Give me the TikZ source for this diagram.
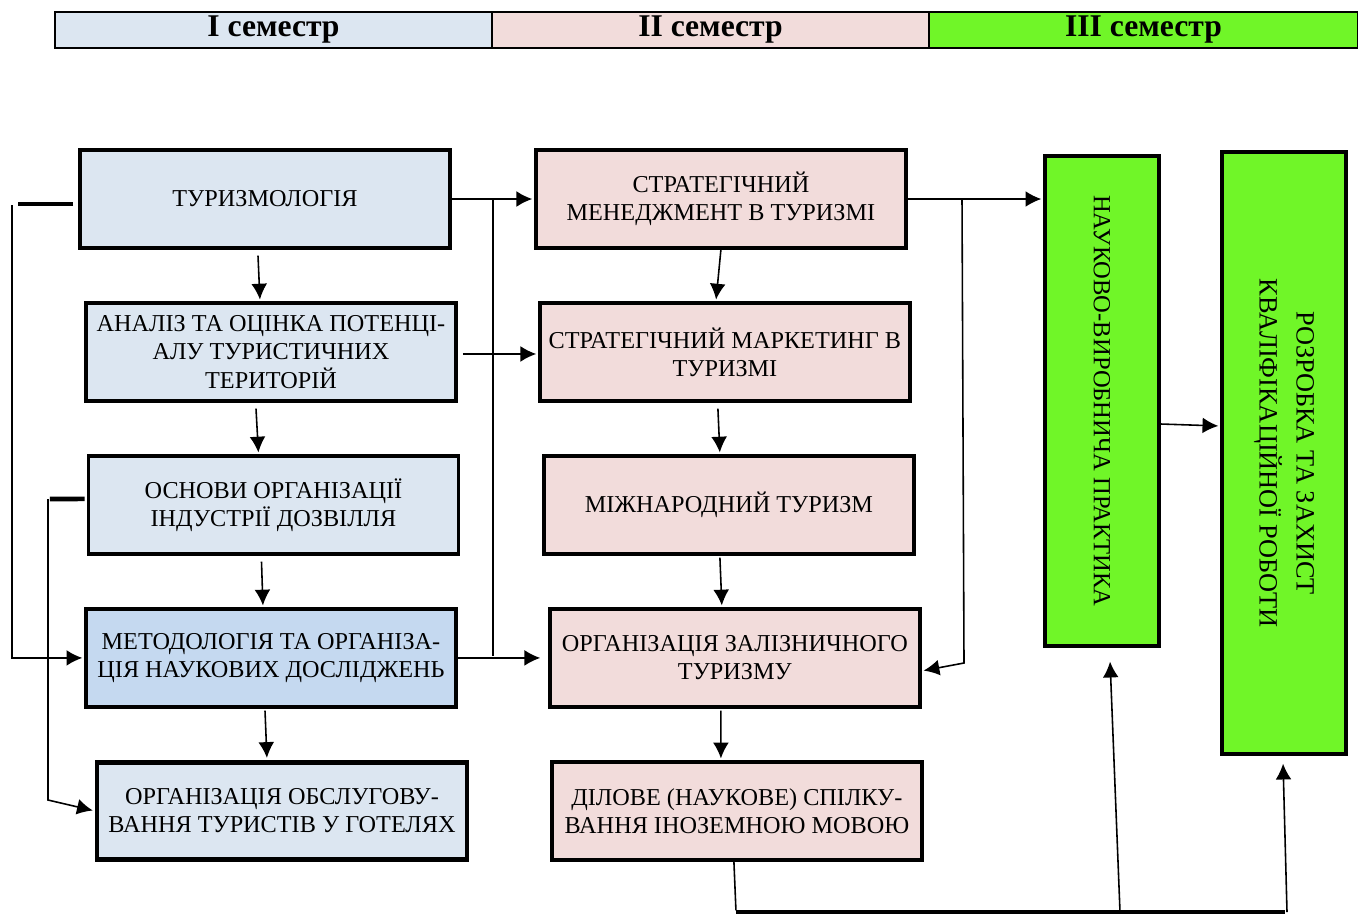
\documentclass[tikz,border=0pt]{standalone}
\usepackage{fontspec}
\setmainfont{Liberation Serif}
\usepackage{tikz}
\usetikzlibrary{arrows.meta,positioning,calc}
\definecolor{semone}{RGB}{220,230,241}
\definecolor{semmeth}{RGB}{197,217,240}
\definecolor{semtwo}{RGB}{242,220,219}
\definecolor{semthree}{RGB}{112,246,40}

\begin{document}
\begin{tikzpicture}[x=0.02cm,y=-0.02cm,shorten >=1pt,node distance=3.06cm,on grid,
    >={Latex[length=9pt,width=9pt]},
    head/.style={draw,line width=1pt,minimum height=0.72cm,inner sep=0pt,
                 font=\bfseries\fontsize{18pt}{20pt}\selectfont},
    disc/.style={draw,line width=2.2pt,minimum width=7.4cm,minimum height=1.95cm,
                 align=center,inner sep=1pt,font=\fontsize{13.8pt}{16pt}\selectfont},
    prac/.style={draw,line width=2.2pt,fill=semthree,rotate=-90,align=center,
                 font=\fontsize{14pt}{21pt}\selectfont},
    conn/.style={line width=0.9pt}]
    \useasboundingbox (0,0) rectangle (1358,914);
    \node[head,fill=semone,minimum width=8.74cm]   (s_1) at (273.5,30)  {I семестр};
    \node[head,fill=semtwo,minimum width=8.74cm]   (s_2) at (710.5,30)  {II семестр};
    \node[head,fill=semthree,minimum width=8.58cm] (s_3) at (1143.5,30) {III семестр};

    \node[disc,fill=semone]  (tur)  at (265,199) {ТУРИЗМОЛОГІЯ};
    \node[disc,fill=semone]  (anal) [below=of tur,xshift=0.12cm]
        {АНАЛІЗ ТА ОЦІНКА ПОТЕНЦІ-\\АЛУ ТУРИСТИЧНИХ\\ТЕРИТОРІЙ};
    \node[disc,fill=semone]  (osn)  [below=of anal,xshift=0.05cm]
        {ОСНОВИ ОРГАНІЗАЦІЇ\\ІНДУСТРІЇ ДОЗВІЛЛЯ};
    \node[disc,fill=semmeth] (met)  [below=of osn,xshift=-0.05cm]
        {МЕТОДОЛОГІЯ ТА ОРГАНІЗА-\\ЦІЯ НАУКОВИХ ДОСЛІДЖЕНЬ};
    \node[disc,fill=semone,line width=2.8pt] (hot) [below=of met,xshift=0.22cm]
        {ОРГАНІЗАЦІЯ ОБСЛУГОВУ-\\ВАННЯ ТУРИСТІВ У ГОТЕЛЯХ};

    \node[disc,fill=semtwo]  (smen) [right=9.12cm of tur]
        {СТРАТЕГІЧНИЙ\\МЕНЕДЖМЕНТ В ТУРИЗМІ};
    \node[disc,fill=semtwo]  (smar) [below=of smen,xshift=0.08cm]
        {СТРАТЕГІЧНИЙ МАРКЕТИНГ В\\ТУРИЗМІ};
    \node[disc,fill=semtwo]  (mizh) [below=of smar,xshift=0.08cm] {МІЖНАРОДНИЙ ТУРИЗМ};
    \node[disc,fill=semtwo]  (zal)  [below=of mizh,xshift=0.12cm]
        {ОРГАНІЗАЦІЯ ЗАЛІЗНИЧНОГО\\ТУРИЗМУ};
    \node[disc,fill=semtwo]  (dil)  [below=of zal,xshift=0.04cm]
        {ДІЛОВЕ (НАУКОВЕ) СПІЛКУ-\\ВАННЯ ІНОЗЕМНОЮ МОВОЮ};

    \node[prac,minimum width=9.8cm,minimum height=2.28cm]   (nauk) at (1102,401)
        {НАУКОВО-ВИРОБНИЧА ПРАКТИКА};
    \node[prac,minimum width=12.04cm,minimum height=2.48cm,
          font=\fontsize{15pt}{21pt}\selectfont] (rozr) at (1284,453)
        {РОЗРОБКА ТА ЗАХИСТ\\КВАЛІФІКАЦІЙНОЇ РОБОТИ};

    \path[->,conn] ($(tur.south)+(-7,6)$)   edge ($(anal.north)+(-11,0)$)
                   ($(anal.south)+(-15,6)$) edge ($(osn.north)+(-15,0)$)
                   ($(osn.south)+(-12,6)$)  edge ($(met.north)+(-8,0)$)
                   ($(met.south)+(-6,2)$)   edge ($(hot.north)+(-15,0)$)
                   (smen.south)             edge ($(smar.north)+(-9,0)$)
                   ($(smar.south)+(-7,6)$)  edge ($(mizh.north)+(-9,0)$)
                   ($(mizh.south)+(-9,2)$)  edge ($(zal.north)+(-13,0)$)
                   ($(zal.south)+(-14,2)$)  edge ($(dil.north)+(-16,0)$)
                   (tur.east)               edge (smen.west)
                   ($(anal.east)+(5,2)$)    edge ($(smar.west)+(0,2)$)
                   (met.east)               edge ($(zal.west)+(-6,0)$)
                   (smen.east)              edge (smen.east -| nauk.south);

    \coordinate (j_1) at ($(tur.east)!0.5!(smen.west)$);
    \draw[conn] (j_1) -- (j_1 |- met.east);
    \coordinate (j_2) at (962,199);
    \coordinate (j_3) at (964,663);
    \draw[conn,->] (j_2) -- (j_3) -- ($(zal.east)+(0,13)$);
    \draw[conn,->] ($(nauk.north)+(0,23)$) -- ($(rozr.south)+(0,-27)$);

    \coordinate (l_1) at (12,205);
    \coordinate (l_2) at (48,499);
    \coordinate (l_3) at (48,800);
    \draw[line width=1.8pt] ($(tur.west)+(-5,5)$) -- ($(l_1)+(4,-1)$);
    \draw[conn,->] (l_1) |- (met.west);
    \draw[line width=2.6pt] ($(osn.west)+(-2,-6)$) -- (l_2);
    \draw[conn,->] (l_2) -- (l_3) -- (hot.west);

    \coordinate (b_1) at (736,912);
    \coordinate (b_2) at (1287,912);
    \coordinate (b_3) at (1120,912);
    \draw[conn] ($(dil.south)+(-3,0)$) -- (b_1);
    \draw[line width=1.8pt] (b_1) -- (b_2);
    \draw[conn,->] (b_3) -- ($(nauk.east)+(8,12)$);
    \draw[conn,->] (b_2) -- ($(rozr.east)+(-1,6)$);
\end{tikzpicture}
\end{document}
